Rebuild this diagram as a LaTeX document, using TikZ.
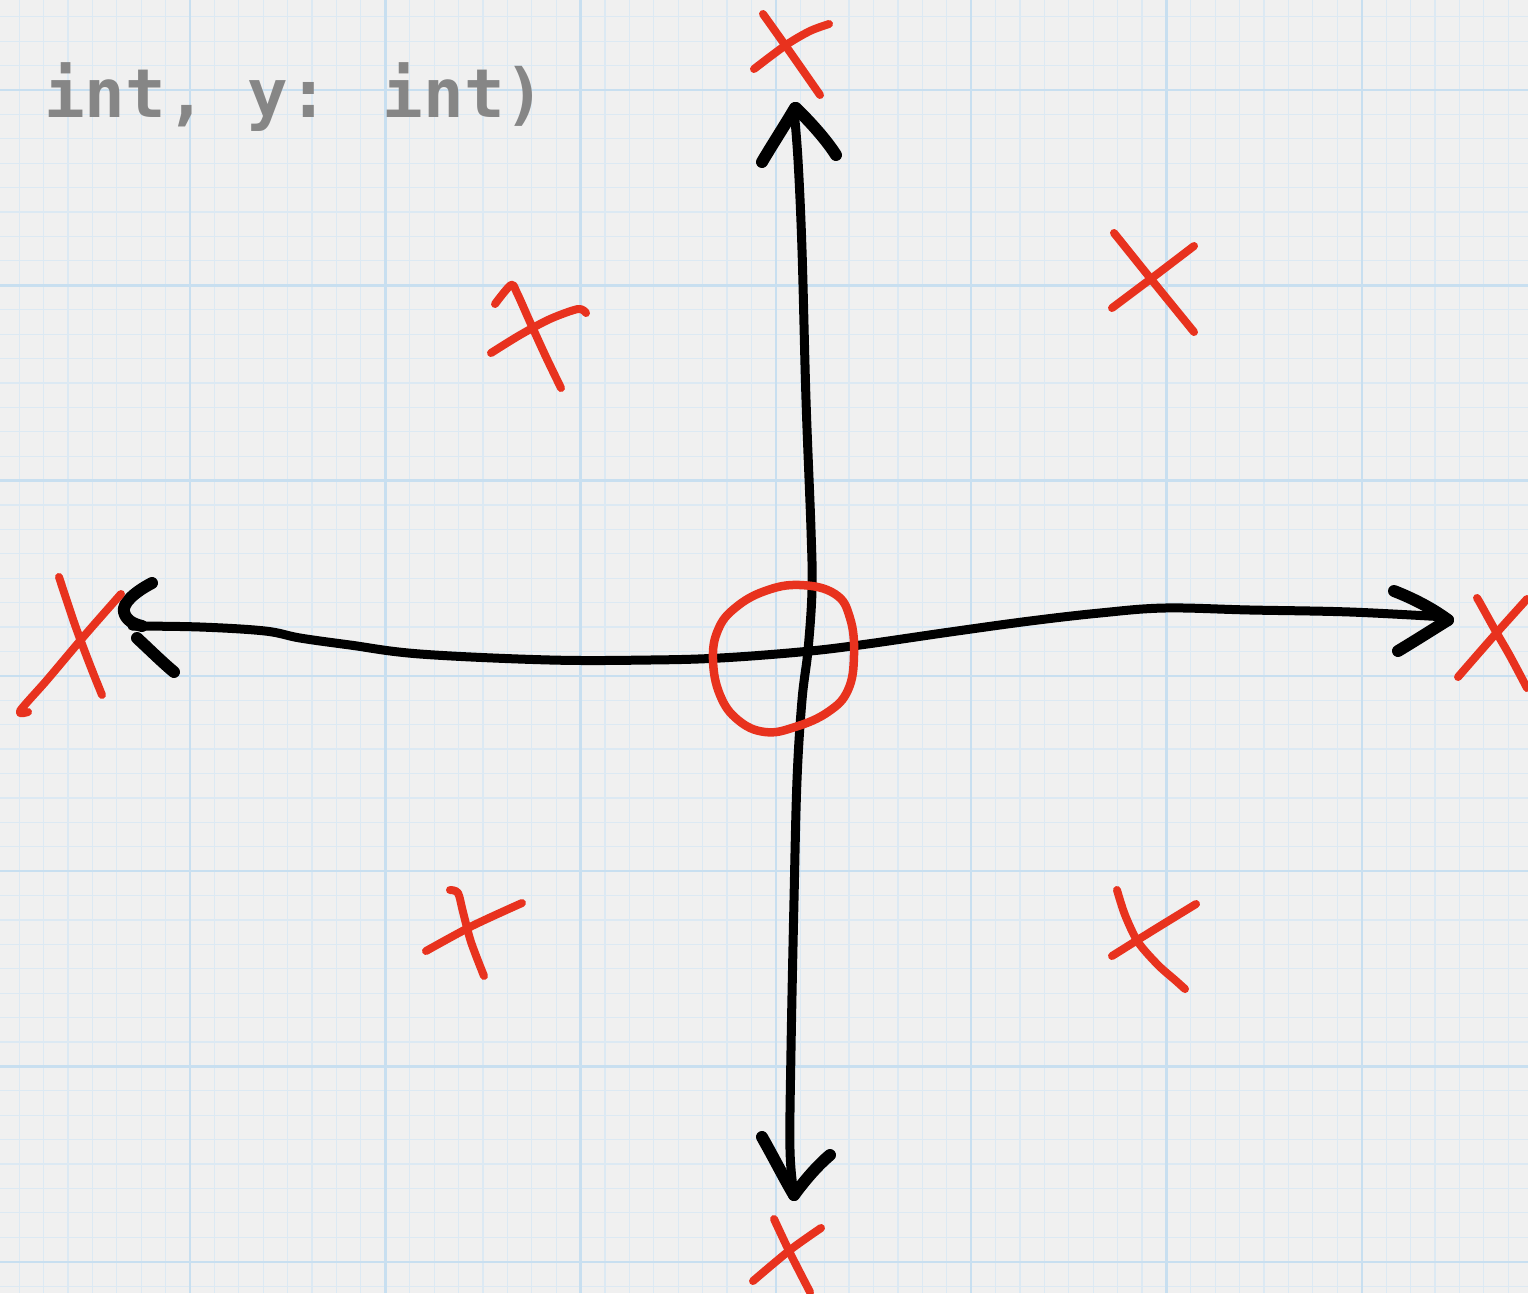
\documentclass[tikz,border=0pt]{standalone}
\usepackage{fontspec}
\newfontfamily\codefont{DejaVu Sans Mono}
\definecolor{paper}{RGB}{240,240,240}
\definecolor{gridminor}{RGB}{220,233,243}
\definecolor{gridmajor}{RGB}{200,223,240}
\definecolor{inkred}{RGB}{232,50,30}
\definecolor{codegray}{RGB}{134,134,134}
\tikzset{
  minorgrid/.style={draw=gridminor, line width=1.2pt},
  majorgrid/.style={draw=gridmajor, line width=2.4pt},
  axisline/.style={draw=black, line width=9pt, line cap=round, line join=round},
  barb/.style={draw=black, line width=12pt, line cap=round, line join=round},
  redmark/.style={draw=inkred, line width=8pt, line cap=round, line join=round},
  ring/.style={draw=inkred, line width=8.5pt},
  codelabel/.style={font=\codefont\bfseries\fontsize{67.5pt}{78pt}\selectfont, text=codegray, inner sep=0pt, anchor=base west}
}
\begin{document}
\begin{tikzpicture}[x=1pt,y=-1pt]
\useasboundingbox (0,0) rectangle (1528,1293);
\fill[paper] (0,0) rectangle (1528,1293);
\begin{scope}
\clip (0,0) rectangle (1528,1293);
% minor grid
\foreach \i in {-8,...,56} {
  \draw[minorgrid] ({190+24.41*\i},0) -- ({190+24.41*\i},1293);
}
\foreach \i in {-4,...,50} {
  \draw[minorgrid] (0,{90+24.41*\i}) -- (1528,{90+24.41*\i});
}
% major grid
\foreach \i in {-1,...,7} {
  \draw[majorgrid] ({190+195.3*\i},0) -- ({190+195.3*\i},1293);
  \draw[majorgrid] (0,{90+195.3*\i}) -- (1528,{90+195.3*\i});
}
\end{scope}

% code text
\node[codelabel] (code) at (44,117) {int, y: int)};

% vertical axis
\draw[axisline] plot[smooth, tension=0.6] coordinates {(794,110) (798,160) (802,250) (806,400) (811,530) (812,590) (808,650) (802,700) (797,780) (794,900) (791,1050) (790,1150) (794,1194)};
% top arrowhead
\draw[barb] (795,108) .. controls (785,125) and (772,145) .. (762,162);
\draw[barb] (796,108) .. controls (810,122) and (825,138) .. (836,155);
% bottom arrowhead
\draw[barb] (762,1137) .. controls (775,1160) and (785,1180) .. (794,1195);
\draw[barb] (794,1195) .. controls (805,1180) and (818,1165) .. (830,1155);

% horizontal axis
\draw[axisline] plot[smooth, tension=0.6] coordinates {(132,626) (200,627) (265,631) (300,638) (350,645) (420,654) (550,660) (650,660) (720,658) (800,652) (860,645) (950,632) (1030,621) (1100,613) (1165,608) (1250,610) (1350,612) (1446,617)};
% left arrowhead
\draw[barb] (152,583) .. controls (135,592) and (122,603) .. (124,612) .. controls (126,620) and (133,624) .. (142,626);
\draw[barb] (137,638) .. controls (150,650) and (162,662) .. (174,672);
% right arrowhead
\draw[barb] (1394,591) .. controls (1412,598) and (1432,608) .. (1448,620);
\draw[barb] (1448,620) .. controls (1432,630) and (1413,642) .. (1398,651);

% origin ring
\draw[ring] plot[smooth cycle, tension=0.7] coordinates {(800,585) (835,594) (850,618) (854,655) (848,690) (828,712) (795,727) (765,732) (738,720) (720,695) (713,660) (718,630) (735,608) (765,591)};

% red crosses
% top
\draw[redmark] plot[smooth] coordinates {(763,14) (790,52) (820,95)};
\draw[redmark] plot[smooth] coordinates {(754,69) (786,45) (810,31) (829,24)};
% upper left
\draw[redmark] plot[smooth] coordinates {(495,304) (511,285) (517,293) (530,322) (546,357) (561,388)};
\draw[redmark] plot[smooth] coordinates {(491,353) (520,335) (550,319) (578,309) (586,313)};
% upper right
\draw[redmark] plot[smooth] coordinates {(1114,233) (1155,284) (1194,332)};
\draw[redmark] plot[smooth] coordinates {(1112,308) (1152,278) (1194,246)};
% lower left
\draw[redmark] plot[smooth] coordinates {(450,890) (458,893) (463,912) (471,942) (484,976)};
\draw[redmark] plot[smooth] coordinates {(426,951) (472,926) (522,903)};
% lower right
\draw[redmark] plot[smooth] coordinates {(1117,890) (1125,915) (1138,942) (1158,965) (1175,980) (1185,989)};
\draw[redmark] plot[smooth] coordinates {(1112,956) (1152,931) (1196,904)};
% left
\draw[redmark] plot[smooth] coordinates {(59,577) (75,625) (90,665) (102,695)};
\draw[redmark] plot[smooth] coordinates {(121,594) (85,635) (47,680) (20,711) (28,712)};
% right
\draw[redmark] plot[smooth] coordinates {(1477,598) (1480,603) (1495,630) (1510,656) (1527,688)};
\draw[redmark] plot[smooth] coordinates {(1458,677) (1492,638) (1527,599)};
% bottom
\draw[redmark] plot[smooth] coordinates {(774,1219) (791,1255) (810,1292)};
\draw[redmark] plot[smooth] coordinates {(753,1281) (790,1250) (821,1228)};
\end{tikzpicture}
\end{document}
